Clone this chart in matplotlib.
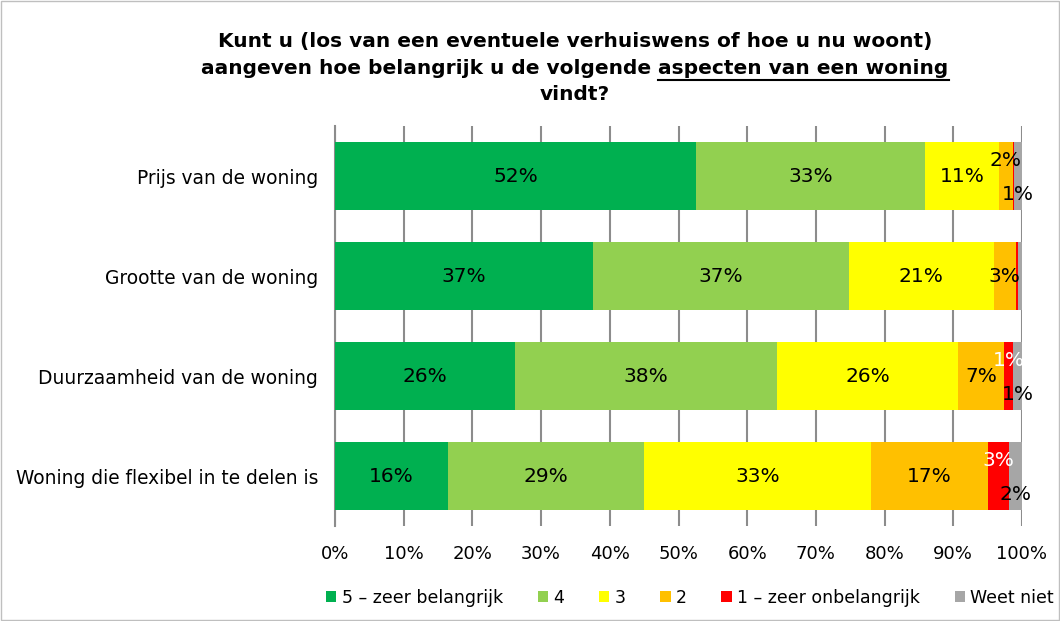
import matplotlib
matplotlib.use("Agg")
import matplotlib.pyplot as plt
import numpy as np

categories = ["Prijs van de woning", "Grootte van de woning",
              "Duurzaamheid van de woning", "Woning die flexibel in te delen is"]
series_names = ["5 \u2013 zeer belangrijk", "4", "3", "2", "1 \u2013 zeer onbelangrijk", "Weet niet"]
values = {
    "5 \u2013 zeer belangrijk": [52.6, 37.6, 26.2, 16.4],
    "4": [33.3, 37.2, 38.1, 28.6],
    "3": [10.7, 21.1, 26.4, 33.0],
    "2": [2.1, 3.2, 6.7, 17.1],
    "1 \u2013 zeer onbelangrijk": [0.2, 0.3, 1.3, 3.0],
    "Weet niet": [1.1, 0.6, 1.3, 1.9],
}
labels = {
    "5 \u2013 zeer belangrijk": ["52%", "37%", "26%", "16%"],
    "4": ["33%", "37%", "38%", "29%"],
    "3": ["11%", "21%", "26%", "33%"],
    "2": ["2%", "3%", "7%", "17%"],
    "1 \u2013 zeer onbelangrijk": ["", "", "1%", "3%"],
    "Weet niet": ["1%", "", "1%", "2%"],
}
colors = ["#00B050", "#92D050", "#FFFF00", "#FFC000", "#FF0000", "#A6A6A6"]
xticks = [0, 10, 20, 30, 40, 50, 60, 70, 80, 90, 100]
xticklabels = ["0%", "10%", "20%", "30%", "40%", "50%", "60%", "70%", "80%", "90%", "100%"]

fig = plt.figure(figsize=(10.6, 6.21), dpi=100)
ax = fig.add_axes([335/1060, 1-526/621, 687/1060, 400/621])

y = np.arange(len(categories))
left = np.zeros(len(categories))
for name, col in zip(series_names, colors):
    v = np.array(values[name])
    ax.barh(y, v, left=left, height=0.68, color=col, label=name, zorder=3)
    for i, (lv, w, lab) in enumerate(zip(left, v, labels[name])):
        if not lab:
            continue
        cx = lv + w / 2
        cy = y[i]
        tc = "black"
        if name == "1 \u2013 zeer onbelangrijk":
            cy = y[i] - 0.16
            tc = "white"
        elif name == "Weet niet":
            cy = y[i] + 0.18
        elif name == "2" and i == 0:
            cy = y[i] - 0.16
        ax.text(cx, cy, lab, ha="center", va="center", fontsize=14.5, color=tc, zorder=5)
    left = left + v

ax.set_xlim(0, 100)
ax.set_ylim(len(categories) - 0.5, -0.5)
ax.set_xticks(xticks)
ax.set_xticklabels(xticklabels, fontsize=13)
ax.set_yticks(y)
ax.set_yticklabels(categories, fontsize=13.4)
ax.tick_params(axis="both", length=0)
ax.tick_params(axis="y", pad=12)
ax.tick_params(axis="x", pad=14)
ax.grid(axis="x", color="#8C8C8C", linewidth=1.5, zorder=0)
for s in ["top", "right", "bottom"]:
    ax.spines[s].set_visible(False)
ax.spines["left"].set_color("#8C8C8C")
ax.spines["left"].set_linewidth(1.5)

leg = fig.legend(loc="center", bbox_to_anchor=(690/1060, 1-598/621), ncol=6, frameon=False,
                 fontsize=12.5, handlelength=0.6, handleheight=0.6, handletextpad=0.3,
                 columnspacing=2.0)

# title
fs = 14.5
fig.text(575/1060, 1-42/621, "Kunt u (los van een eventuele verhuiswens of hoe u nu woont)",
         ha="center", va="center", fontsize=fs, fontweight="bold")
fig.text(575/1060, 1-95/621, "vindt?", ha="center", va="center", fontsize=fs, fontweight="bold")
part1 = "aangeven hoe belangrijk u de volgende "
part2 = "aspecten van een woning"
t1 = fig.text(0, 1-68/621, part1, ha="left", va="center", fontsize=fs, fontweight="bold")
t2 = fig.text(0, 1-68/621, part2, ha="left", va="center", fontsize=fs, fontweight="bold")
r = fig.canvas.get_renderer()
w1 = t1.get_window_extent(r).width / fig.bbox.width
w2 = t2.get_window_extent(r).width / fig.bbox.width
x0 = 575/1060 - (w1 + w2) / 2
t1.set_x(x0)
t2.set_x(x0 + w1)
ul_y = 1 - 80/621
fig.add_artist(plt.Line2D([x0 + w1, x0 + w1 + w2], [ul_y, ul_y], transform=fig.transFigure,
                          color="black", linewidth=1.5))

fig.add_artist(plt.Rectangle((0.001, 0.001), 0.998, 0.998, transform=fig.transFigure,
                             fill=False, edgecolor="#BFBFBF", linewidth=1))

fig.savefig("out.png", dpi=100)
